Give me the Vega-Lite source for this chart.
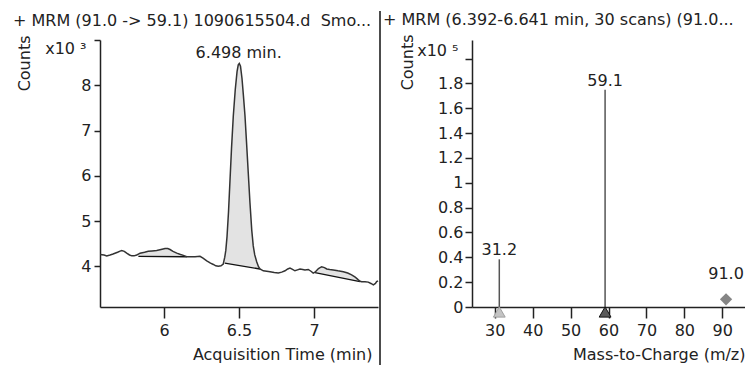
{
  "$schema": "https://vega.github.io/schema/vega-lite/v6.json",
  "background": "white",
  "padding": {"left": 13, "top": 10, "right": 0, "bottom": 0},
  "bounds": "flush",
  "spacing": 2,
  "config": {
    "font": "DejaVu Sans",
    "view": {"stroke": null},
    "axis": {
      "labelFont": "DejaVu Sans", "labelFontSize": 16, "labelColor": "#222",
      "titleFont": "DejaVu Sans", "titleFontSize": 16, "titleFontWeight": "normal", "titleColor": "#222",
      "domainColor": "#222", "domainWidth": 1.5, "tickColor": "#222", "tickWidth": 1.5,
      "grid": false, "labelOverlap": false, "labelFlush": false
    },
    "title": {"font": "DejaVu Sans", "fontSize": 16, "fontWeight": "normal", "color": "#222", "anchor": "start", "frame": "group"},
    "text": {"font": "DejaVu Sans", "fontSize": 16, "color": "#222"}
  },
  "datasets": {
    "signal": [
      {"t": 5.573, "v": 4.26}, {"t": 5.6, "v": 4.25}, {"t": 5.618, "v": 4.23}, {"t": 5.64, "v": 4.25},
      {"t": 5.66, "v": 4.27}, {"t": 5.69, "v": 4.31}, {"t": 5.718, "v": 4.35}, {"t": 5.735, "v": 4.33},
      {"t": 5.751, "v": 4.29}, {"t": 5.77, "v": 4.25}, {"t": 5.785, "v": 4.23}, {"t": 5.8, "v": 4.23},
      {"t": 5.818, "v": 4.25}, {"t": 5.829, "v": 4.27}, {"t": 5.84, "v": 4.29}, {"t": 5.87, "v": 4.31},
      {"t": 5.895, "v": 4.33}, {"t": 5.92, "v": 4.34}, {"t": 5.951, "v": 4.35}, {"t": 5.98, "v": 4.37},
      {"t": 6.007, "v": 4.39}, {"t": 6.025, "v": 4.39}, {"t": 6.04, "v": 4.37}, {"t": 6.06, "v": 4.33},
      {"t": 6.085, "v": 4.29}, {"t": 6.11, "v": 4.26}, {"t": 6.129, "v": 4.24}, {"t": 6.151, "v": 4.21},
      {"t": 6.18, "v": 4.21}, {"t": 6.207, "v": 4.21}, {"t": 6.24, "v": 4.22}, {"t": 6.26, "v": 4.18},
      {"t": 6.285, "v": 4.12}, {"t": 6.31, "v": 4.07}, {"t": 6.329, "v": 4.04}, {"t": 6.345, "v": 4.01},
      {"t": 6.362, "v": 4.0}, {"t": 6.38, "v": 4.01}, {"t": 6.395, "v": 4.05}, {"t": 6.405, "v": 4.2},
      {"t": 6.412, "v": 4.35}, {"t": 6.42, "v": 4.65}, {"t": 6.43, "v": 5.2}, {"t": 6.44, "v": 5.9},
      {"t": 6.45, "v": 6.6}, {"t": 6.462, "v": 7.32}, {"t": 6.475, "v": 7.9}, {"t": 6.487, "v": 8.3},
      {"t": 6.495, "v": 8.45}, {"t": 6.502, "v": 8.48}, {"t": 6.51, "v": 8.42}, {"t": 6.52, "v": 8.15},
      {"t": 6.53, "v": 7.75}, {"t": 6.54, "v": 7.32}, {"t": 6.55, "v": 6.75}, {"t": 6.562, "v": 6.05},
      {"t": 6.573, "v": 5.41}, {"t": 6.585, "v": 4.8}, {"t": 6.595, "v": 4.45}, {"t": 6.605, "v": 4.25},
      {"t": 6.618, "v": 4.1}, {"t": 6.63, "v": 3.99}, {"t": 6.64, "v": 3.94}, {"t": 6.662, "v": 3.9},
      {"t": 6.685, "v": 3.89}, {"t": 6.707, "v": 3.88}, {"t": 6.735, "v": 3.86}, {"t": 6.762, "v": 3.85},
      {"t": 6.785, "v": 3.87}, {"t": 6.807, "v": 3.9}, {"t": 6.825, "v": 3.94}, {"t": 6.84, "v": 3.96},
      {"t": 6.857, "v": 3.93}, {"t": 6.873, "v": 3.9}, {"t": 6.89, "v": 3.92}, {"t": 6.907, "v": 3.94},
      {"t": 6.925, "v": 3.93}, {"t": 6.94, "v": 3.92}, {"t": 6.962, "v": 3.93}, {"t": 6.98, "v": 3.89},
      {"t": 6.995, "v": 3.85}, {"t": 7.007, "v": 3.87}, {"t": 7.03, "v": 3.95}, {"t": 7.051, "v": 3.99},
      {"t": 7.07, "v": 3.97}, {"t": 7.085, "v": 3.94}, {"t": 7.105, "v": 3.93}, {"t": 7.129, "v": 3.92},
      {"t": 7.16, "v": 3.9}, {"t": 7.196, "v": 3.88}, {"t": 7.225, "v": 3.85}, {"t": 7.251, "v": 3.81},
      {"t": 7.275, "v": 3.76}, {"t": 7.296, "v": 3.7}, {"t": 7.307, "v": 3.67}, {"t": 7.318, "v": 3.66},
      {"t": 7.34, "v": 3.66}, {"t": 7.362, "v": 3.65}, {"t": 7.38, "v": 3.62}, {"t": 7.396, "v": 3.59},
      {"t": 7.41, "v": 3.62}, {"t": 7.418, "v": 3.66}, {"t": 7.427, "v": 3.68}
    ],
    "peaks": [
      {"region": 1, "t": 5.829, "v": 4.27, "b": 4.22}, {"region": 1, "t": 5.84, "v": 4.29, "b": 4.22},
      {"region": 1, "t": 5.87, "v": 4.31, "b": 4.22}, {"region": 1, "t": 5.895, "v": 4.33, "b": 4.219},
      {"region": 1, "t": 5.92, "v": 4.34, "b": 4.218}, {"region": 1, "t": 5.951, "v": 4.35, "b": 4.217},
      {"region": 1, "t": 5.98, "v": 4.37, "b": 4.216}, {"region": 1, "t": 6.007, "v": 4.39, "b": 4.215},
      {"region": 1, "t": 6.025, "v": 4.39, "b": 4.214}, {"region": 1, "t": 6.04, "v": 4.37, "b": 4.213},
      {"region": 1, "t": 6.06, "v": 4.33, "b": 4.213}, {"region": 1, "t": 6.085, "v": 4.29, "b": 4.212},
      {"region": 1, "t": 6.11, "v": 4.26, "b": 4.211}, {"region": 1, "t": 6.129, "v": 4.24, "b": 4.211},
      {"region": 1, "t": 6.151, "v": 4.21, "b": 4.21},
      {"region": 2, "t": 6.405, "v": 4.2, "b": 4.07}, {"region": 2, "t": 6.412, "v": 4.35, "b": 4.066},
      {"region": 2, "t": 6.42, "v": 4.65, "b": 4.063}, {"region": 2, "t": 6.43, "v": 5.2, "b": 4.057},
      {"region": 2, "t": 6.44, "v": 5.9, "b": 4.052}, {"region": 2, "t": 6.45, "v": 6.6, "b": 4.046},
      {"region": 2, "t": 6.462, "v": 7.32, "b": 4.039}, {"region": 2, "t": 6.475, "v": 7.9, "b": 4.032},
      {"region": 2, "t": 6.487, "v": 8.3, "b": 4.025}, {"region": 2, "t": 6.495, "v": 8.45, "b": 4.021},
      {"region": 2, "t": 6.502, "v": 8.48, "b": 4.017}, {"region": 2, "t": 6.51, "v": 8.42, "b": 4.013},
      {"region": 2, "t": 6.52, "v": 8.15, "b": 4.007}, {"region": 2, "t": 6.53, "v": 7.75, "b": 4.001},
      {"region": 2, "t": 6.54, "v": 7.32, "b": 3.996}, {"region": 2, "t": 6.55, "v": 6.75, "b": 3.99},
      {"region": 2, "t": 6.562, "v": 6.05, "b": 3.984}, {"region": 2, "t": 6.573, "v": 5.41, "b": 3.977},
      {"region": 2, "t": 6.585, "v": 4.8, "b": 3.971}, {"region": 2, "t": 6.595, "v": 4.45, "b": 3.965},
      {"region": 2, "t": 6.605, "v": 4.25, "b": 3.96}, {"region": 2, "t": 6.618, "v": 4.1, "b": 3.952},
      {"region": 2, "t": 6.63, "v": 3.99, "b": 3.946}, {"region": 2, "t": 6.64, "v": 3.94, "b": 3.94},
      {"region": 3, "t": 7.007, "v": 3.87, "b": 3.86}, {"region": 3, "t": 7.03, "v": 3.95, "b": 3.845},
      {"region": 3, "t": 7.051, "v": 3.99, "b": 3.831}, {"region": 3, "t": 7.07, "v": 3.97, "b": 3.818},
      {"region": 3, "t": 7.085, "v": 3.94, "b": 3.808}, {"region": 3, "t": 7.105, "v": 3.93, "b": 3.795},
      {"region": 3, "t": 7.129, "v": 3.92, "b": 3.779}, {"region": 3, "t": 7.16, "v": 3.9, "b": 3.758},
      {"region": 3, "t": 7.196, "v": 3.88, "b": 3.734}, {"region": 3, "t": 7.225, "v": 3.85, "b": 3.715},
      {"region": 3, "t": 7.251, "v": 3.81, "b": 3.697}, {"region": 3, "t": 7.275, "v": 3.76, "b": 3.681},
      {"region": 3, "t": 7.296, "v": 3.7, "b": 3.667}, {"region": 3, "t": 7.307, "v": 3.67, "b": 3.66}
    ],
    "baselines": [
      {"t1": 5.829, "b1": 4.22, "t2": 6.151, "b2": 4.21},
      {"t1": 6.405, "b1": 4.07, "t2": 6.64, "b2": 3.94},
      {"t1": 7.007, "b1": 3.86, "t2": 7.307, "b2": 3.66}
    ],
    "annot": [{"t": 6.498, "v": 8.48, "label": "6.498 min."}],
    "spectrum": [
      {"mz": 31.2, "abund": 0.384, "label": "31.2", "kind": "stick"},
      {"mz": 59.1, "abund": 1.75, "label": "59.1", "kind": "stick"},
      {"mz": 91.0, "abund": 0.062, "label": "91.0", "kind": "diamond"}
    ]
  },
  "hconcat": [
    {
      "width": 278,
      "height": 267,
      "title": {"text": "+ MRM (91.0 -> 59.1) 1090615504.d\u00a0 Smo...", "dx": -87, "offset": -7, "baseline": "alphabetic"},
      "encoding": {
        "x": {"field": "t", "type": "quantitative", "scale": {"domain": [5.573, 7.427], "nice": false, "zero": false},
          "axis": {"values": [6, 6.5, 7], "format": "~g", "tickSize": 11, "labelPadding": 4, "title": "Acquisition Time (min)",
            "titleAnchor": "end", "titleAlign": "right", "titleBaseline": "alphabetic", "titleX": 272, "titleY": 52}},
        "y": {"field": "v", "type": "quantitative", "scale": {"domain": [3.1, 9.0], "nice": false, "zero": false},
          "axis": {"values": [4, 5, 6, 7, 8, 9], "tickSize": 6,
            "labelPadding": {"condition": {"test": "datum.value == 9", "value": 8}, "value": 3},
            "labelExpr": "datum.value == 9 ? 'x10 ³' : format(datum.value, '~g')",
            "labelBaseline": {"condition": {"test": "datum.value == 9", "value": "top"}, "value": "middle"},
            "title": "Counts", "titleAngle": -90, "titleAnchor": "end", "titleAlign": "right",
            "titleBaseline": "alphabetic", "titleX": -71, "titleY": -5}}
      },
      "layer": [
        {
          "data": {"name": "peaks"},
          "mark": {"type": "area", "color": "#e3e3e3", "opacity": 1},
          "encoding": {
            "y2": {"field": "b"},
            "detail": {"field": "region"}
          }
        },
        {
          "data": {"name": "baselines"},
          "mark": {"type": "rule", "color": "#111", "strokeWidth": 1.3},
          "encoding": {
            "x": {"field": "t1", "type": "quantitative", "scale": {"domain": [5.573, 7.427], "nice": false, "zero": false},
              "axis": {"values": [6, 6.5, 7], "format": "~g", "tickSize": 11, "labelPadding": 4, "title": "Acquisition Time (min)",
                "titleAnchor": "end", "titleAlign": "right", "titleBaseline": "alphabetic", "titleX": 272, "titleY": 52}},
            "x2": {"field": "t2"},
            "y": {"field": "b1", "type": "quantitative", "scale": {"domain": [3.1, 9.0], "nice": false, "zero": false},
              "axis": {"values": [4, 5, 6, 7, 8, 9], "tickSize": 6,
                "labelPadding": {"condition": {"test": "datum.value == 9", "value": 8}, "value": 3},
                "labelExpr": "datum.value == 9 ? 'x10 ³' : format(datum.value, '~g')",
                "labelBaseline": {"condition": {"test": "datum.value == 9", "value": "top"}, "value": "middle"},
                "title": "Counts", "titleAngle": -90, "titleAnchor": "end", "titleAlign": "right",
                "titleBaseline": "alphabetic", "titleX": -71, "titleY": -5}},
            "y2": {"field": "b2"}
          }
        },
        {
          "data": {"name": "signal"},
          "mark": {"type": "line", "color": "#333", "strokeWidth": 1.5}
        },
        {
          "data": {"name": "annot"},
          "mark": {"type": "text", "align": "center", "baseline": "alphabetic", "dy": -6},
          "encoding": {"text": {"field": "label"}}
        }
      ]
    },
    {
      "width": 90,
      "height": 267,
      "data": {"values": [{}]},
      "mark": {"type": "rule", "color": "#111", "strokeWidth": 1.5, "clip": false},
      "encoding": {
        "x": {"datum": 0, "type": "quantitative", "scale": {"domain": [0, 1], "nice": false, "zero": false}, "axis": null},
        "y": {"datum": 1.1086, "type": "quantitative", "scale": {"domain": [0, 1], "nice": false, "zero": false}, "axis": null},
        "y2": {"datum": -0.218}
      }
    },
    {
      "width": 273,
      "height": 267,
      "title": {"text": "+ MRM (6.392-6.641 min, 30 scans) (91.0...", "dx": -89, "offset": -7, "baseline": "alphabetic"},
      "data": {"name": "spectrum"},
      "encoding": {
        "x": {"field": "mz", "type": "quantitative", "scale": {"domain": [24, 96], "nice": false, "zero": false},
          "axis": {"values": [30, 40, 50, 60, 70, 80, 90], "format": "d", "tickSize": 11, "labelPadding": 4, "title": "Mass-to-Charge (m/z)",
            "titleAnchor": "end", "titleAlign": "right", "titleBaseline": "alphabetic", "titleX": 273, "titleY": 52}},
        "y": {"field": "abund", "type": "quantitative", "scale": {"domain": [0, 2.15], "nice": false, "zero": false},
          "axis": {"values": [0, 0.2, 0.4, 0.6, 0.8, 1, 1.2, 1.4, 1.6, 1.8, 2], "tickSize": 7,
            "labelPadding": {"condition": {"test": "datum.value == 2", "value": 7}, "value": 2},
            "labelExpr": "datum.value == 2 ? 'x10 ⁵' : format(datum.value, '~g')",
            "labelBaseline": {"condition": {"test": "datum.value == 2", "value": "alphabetic"}, "value": "middle"},
            "labelOffset": {"condition": {"test": "datum.value == 2", "value": -3}, "value": 0},
            "title": "Counts", "titleAngle": -90, "titleAnchor": "end", "titleAlign": "right",
            "titleBaseline": "alphabetic", "titleX": -60, "titleY": -6}}
      },
      "layer": [
        {
          "transform": [{"filter": "datum.kind == 'stick'"}],
          "mark": {"type": "rule", "color": "#555", "strokeWidth": 1.5},
          "encoding": {
            "y2": {"datum": 0}
          }
        },
        {
          "transform": [{"filter": "datum.kind == 'stick'"}],
          "mark": {"type": "point", "shape": "triangle-up", "filled": true, "size": 140, "yOffset": 5, "strokeWidth": 1},
          "encoding": {
            "y": {"datum": 0, "type": "quantitative", "scale": {"domain": [0, 2.15], "nice": false, "zero": false},
              "axis": {"values": [0, 0.2, 0.4, 0.6, 0.8, 1, 1.2, 1.4, 1.6, 1.8, 2], "tickSize": 7,
                "labelPadding": {"condition": {"test": "datum.value == 2", "value": 7}, "value": 2},
                "labelExpr": "datum.value == 2 ? 'x10 ⁵' : format(datum.value, '~g')",
                "labelBaseline": {"condition": {"test": "datum.value == 2", "value": "alphabetic"}, "value": "middle"},
                "labelOffset": {"condition": {"test": "datum.value == 2", "value": -3}, "value": 0},
                "title": "Counts", "titleAngle": -90, "titleAnchor": "end", "titleAlign": "right",
                "titleBaseline": "alphabetic", "titleX": -60, "titleY": -6}},
            "fill": {"field": "label", "type": "nominal", "scale": {"domain": ["31.2", "59.1"], "range": ["#c4c4c4", "#5a5a5a"]}, "legend": null},
            "stroke": {"field": "label", "type": "nominal", "scale": {"domain": ["31.2", "59.1"], "range": ["#a0a0a0", "#111111"]}, "legend": null},
            "opacity": {"value": 1}
          }
        },
        {
          "transform": [{"filter": "datum.kind == 'diamond'"}],
          "mark": {"type": "point", "shape": "diamond", "filled": true, "size": 150, "color": "#858585", "opacity": 1}
        },
        {
          "transform": [{"filter": "datum.kind == 'stick'"}],
          "mark": {"type": "text", "align": "center", "baseline": "alphabetic", "dy": -4},
          "encoding": {"text": {"field": "label"}}
        },
        {
          "transform": [{"filter": "datum.kind == 'diamond'"}],
          "mark": {"type": "text", "align": "center", "baseline": "alphabetic", "dy": -20},
          "encoding": {"text": {"field": "label"}}
        }
      ]
    }
  ]
}
